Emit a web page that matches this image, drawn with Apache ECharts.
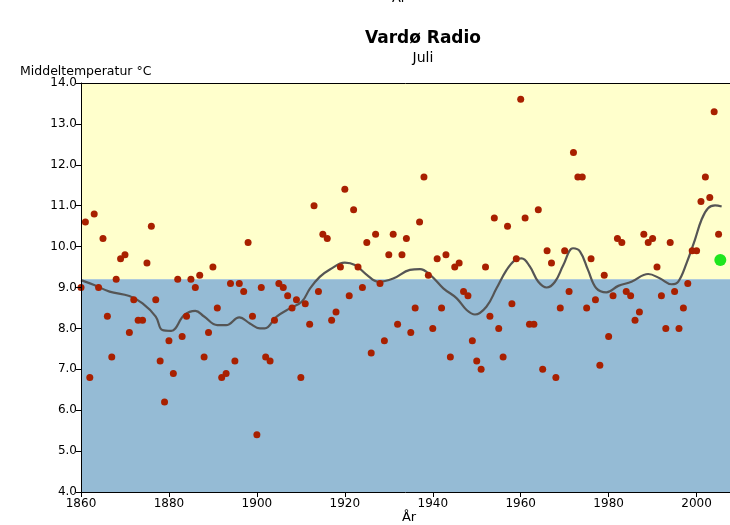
<!DOCTYPE html>
<html>
<head>
<meta charset="utf-8">
<script src="https://cdn.jsdelivr.net/npm/echarts@6/dist/echarts.min.js"></script>
<style>html,body{margin:0;padding:0;background:#fff}#c{width:730px;height:525px}</style>
</head>
<body>
<div id="c"></div>
<script>
// ---- data ----
var startYear = 1860;
var temps = [
  9.0, 10.6, 6.8, 10.8, 9.0, 10.2, 8.3, 7.3, 9.2, 9.7,      // 1860-1869
  9.8, 7.9, 8.7, 8.2, 8.2, 9.6, 10.5, 8.7, 7.2, 6.2,        // 1870-1879
  7.7, 6.9, 9.2, 7.8, 8.3, 9.2, 9.0, 9.3, 7.3, 7.9,         // 1880-1889
  9.5, 8.5, 6.8, 6.9, 9.1, 7.2, 9.1, 8.9, 10.1, 8.3,        // 1890-1899
  5.4, 9.0, 7.3, 7.2, 8.2, 9.1, 9.0, 8.8, 8.5, 8.7,         // 1900-1909
  6.8, 8.6, 8.1, 11.0, 8.9, 10.3, 10.2, 8.2, 8.4, 9.5,      // 1910-1919
  11.4, 8.8, 10.9, 9.5, 9.0, 10.1, 7.4, 10.3, 9.1, 7.7,     // 1920-1929
  9.8, 10.3, 8.1, 9.8, 10.2, 7.9, 8.5, 10.6, 11.7, 9.3,     // 1930-1939
  8.0, 9.7, 8.5, 9.8, 7.3, 9.5, 9.6, 8.9, 8.8, 7.7,         // 1940-1949
  7.2, 7.0, 9.5, 8.3, 10.7, 8.0, 7.3, 10.5, 8.6, 9.7,       // 1950-1959
  13.6, 10.7, 8.1, 8.1, 10.9, 7.0, 9.9, 9.6, 6.8, 8.5,      // 1960-1969
  9.9, 8.9, 12.3, 11.7, 11.7, 8.5, 9.7, 8.7, 7.1, 9.3,      // 1970-1979
  7.8, 8.8, 10.2, 10.1, 8.9, 8.8, 8.2, 8.4, 10.3, 10.1,     // 1980-1989
  10.2, 9.5, 8.8, 8.0, 10.1, 8.9, 8.0, 8.5, 9.1, 9.9,       // 1990-1999
  9.9, 11.1, 11.7, 11.2, 13.3, 10.3                          // 2000-2005
];
var trendYears = [1860, 1863, 1866.5, 1871, 1874, 1877, 1878.5, 1880.5, 1883.5, 1886, 1888, 1891, 1893, 1896, 1898.4,
  1900.7, 1901.8, 1904.5, 1907.5, 1910.2, 1912.1, 1914.3, 1916.6, 1920, 1922.3, 1925, 1927.6, 1931, 1934.8,
  1937.1, 1939.4, 1942.4, 1945.4, 1947.7, 1949.6, 1952.2, 1954.5, 1956.8, 1958.7, 1960.2, 1962.1, 1964, 1965.9,
  1967.8, 1969.7, 1971.9, 1973.5, 1975.3, 1977.2, 1979.5, 1982.2, 1985.2, 1989, 1991.7, 1994.3, 1995.8,
  1997.7, 1999.6, 2001.1, 2002.6, 2004.2, 2005.7];
var trendValues = [9.18, 9.06, 8.90, 8.79, 8.61, 8.29, 7.96, 7.94, 8.33, 8.43, 8.29, 8.08, 8.08, 8.27, 8.12,
  8.0, 8.0, 8.29, 8.49, 8.65, 8.98, 9.26, 9.44, 9.61, 9.55, 9.31, 9.14, 9.22, 9.43,
  9.45, 9.31, 8.98, 8.74, 8.45, 8.34, 8.53, 8.98, 9.43, 9.67, 9.71, 9.51, 9.14, 9.0,
  9.14, 9.55, 9.96, 9.88, 9.43, 8.98, 8.88, 9.04, 9.14, 9.33, 9.22, 9.08, 9.14,
  9.59, 10.16, 10.65, 10.94, 11.01, 10.98];
var latestYear = [2005.4];
var latestValue = [9.67];
var normalLevel = 9.2;
var yMin = 4, yMax = 14;
var xMin = 1860, xMax = 2007.6, xTickStep = 20;

// ---- build ----
var pts = temps.map(function (v, i) { return [startYear + i, v]; });
var trend = trendYears.map(function (y, i) { return [y, trendValues[i]]; });
var latest = latestYear.map(function (y, i) { return [y, latestValue[i]]; });
var FONT = 'DejaVu Sans';

var chart = echarts.init(document.getElementById('c'), null, {renderer: 'canvas'});
chart.setOption({
  animation: false,
  backgroundColor: '#ffffff',
  grid: {left: 81, top: 83, right: 0, height: 409, containLabel: false},
  xAxis: [{
    type: 'value', min: xMin, max: xMax, interval: xTickStep, z: 5,
    axisLine: {show: true, onZero: false, lineStyle: {color: '#000', width: 1}},
    axisTick: {show: true, length: 5, lineStyle: {color: '#000'}},
    axisLabel: {color: '#000', fontFamily: FONT, fontSize: 12, margin: 6, showMaxLabel: false,
      formatter: function (v) { return String(Math.round(v)); }},
    splitLine: {show: false}
  }, {
    type: 'value', position: 'top', min: xMin, max: xMax, z: 5,
    axisLine: {show: true, onZero: false, lineStyle: {color: '#000', width: 1}},
    axisTick: {show: false}, axisLabel: {show: false}, splitLine: {show: false}
  }],
  yAxis: {
    type: 'value', min: yMin, max: yMax, interval: 1, z: 5,
    axisLine: {show: true, onZero: false, lineStyle: {color: '#000', width: 1}},
    axisTick: {show: true, length: 5, lineStyle: {color: '#000'}},
    axisLabel: {color: '#000', fontFamily: FONT, fontSize: 12, margin: 4,
      formatter: function (v) { return v.toFixed(1); }},
    splitLine: {show: false}
  },
  series: [{
    type: 'scatter', data: [], z: 1, silent: true,
    markArea: {
      silent: true,
      data: [
        [{yAxis: normalLevel, itemStyle: {color: '#ffffcc'}}, {yAxis: yMax}],
        [{yAxis: yMin, itemStyle: {color: '#95bbd5'}}, {yAxis: normalLevel}]
      ]
    }
  }, {
    type: 'line', data: trend, smooth: 0.4, showSymbol: false, z: 3,
    lineStyle: {color: '#555555', width: 2.2}
  }, {
    type: 'scatter', data: pts, symbol: 'circle', symbolSize: 7, z: 4,
    itemStyle: {color: '#a82000', opacity: 1}
  }, {
    type: 'scatter', data: latest, symbol: 'circle', symbolSize: 12, z: 4,
    itemStyle: {color: '#1ee61e', opacity: 1}
  }],
  graphic: [
    {type: 'text', x: 423, y: 39, style: {text: 'Vardø Radio', font: 'bold 17px "DejaVu Sans"', fill: '#000', textAlign: 'center', textVerticalAlign: 'middle'}},
    {type: 'text', x: 423, y: 58, style: {text: 'Juli', font: '14px "DejaVu Sans"', fill: '#000', textAlign: 'center', textVerticalAlign: 'middle'}},
    {type: 'text', x: 20, y: 72, style: {text: 'Middeltemperatur °C', font: '12.5px "DejaVu Sans"', fill: '#000', textAlign: 'left', textVerticalAlign: 'middle'}},
    {type: 'text', x: 409, y: 518, style: {text: 'År', font: '13px "DejaVu Sans"', fill: '#000', textAlign: 'center', textVerticalAlign: 'middle'}},
    {type: 'text', x: 399, y: -1.5, style: {text: 'År', font: '13px "DejaVu Sans"', fill: '#000', textAlign: 'center', textVerticalAlign: 'middle'}}
  ]
});
</script>
</body>
</html>
